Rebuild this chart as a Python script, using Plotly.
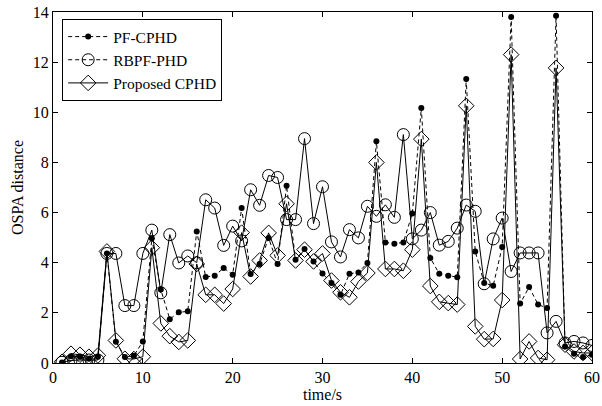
import plotly.graph_objects as go

t = list(range(1, 61))

pf_cphd = [0.02, 0.27, 0.25, 0.17, 0.25, 4.37, 0.85, 0.24, 0.29, 0.86,
           4.98, 2.93, 1.75, 2.02, 2.06, 5.25, 3.43, 3.48, 3.79, 3.52,
           6.18, 3.55, 3.95, 4.99, 3.95, 7.07, 4.12, 4.55, 4.05, 3.57,
           3.19, 2.72, 3.56, 3.61, 3.99, 8.84, 4.81, 4.76, 4.81, 5.96,
           10.17, 4.19, 3.56, 3.48, 3.42, 11.33, 4.45, 3.19, 3.08, 4.63,
           13.8, 2.37, 3.03, 2.33, 2.19, 13.85, 0.66, 0.37, 0.24, 0.33]

rbpf_phd = [0.03, 0.10, 0.12, 0.12, 0.12, 4.37, 4.37, 2.29, 2.29, 4.37,
            5.30, 2.80, 5.12, 3.99, 4.27, 4.00, 6.51, 6.18, 4.69, 5.46,
            4.87, 6.91, 6.29, 7.48, 7.40, 5.72, 5.72, 8.95, 5.56, 7.03,
            4.83, 4.23, 5.32, 4.99, 6.25, 5.85, 6.31, 5.81, 9.11, 4.95,
            5.30, 6.00, 4.70, 4.85, 5.38, 6.30, 6.05, 3.16, 4.95, 5.78,
            3.65, 4.39, 4.39, 4.39, 1.20, 1.66, 0.80, 0.86, 0.80, 0.70]

proposed = [0.05, 0.37, 0.33, 0.25, 0.30, 4.45, 0.90, 0.17, 0.16, 0.25,
            4.60, 1.58, 1.07, 0.84, 0.90, 3.95, 2.72, 2.72, 2.37, 2.95,
            5.20, 3.45, 4.09, 5.19, 4.29, 6.35, 4.09, 4.52, 4.05, 4.37,
            3.29, 2.82, 2.62, 3.25, 3.59, 8.00, 3.75, 3.75, 3.68, 4.52,
            8.93, 3.07, 2.44, 2.39, 2.33, 10.26, 1.46, 0.95, 0.96, 2.51,
            12.30, 0.16, 0.86, 0.20, 0.13, 11.77, 0.73, 0.46, 0.40, 0.40]

names = ["PF-CPHD", "RBPF-PHD", "Proposed CPHD"]
x_ticks = [0, 10, 20, 30, 40, 50, 60]
y_ticks = [0, 2, 4, 6, 8, 10, 12, 14]

FONT = "Liberation Serif, Times New Roman, serif"

fig = go.Figure()

# RBPF-PHD (solid line in plot, dashed in legend)
fig.add_trace(go.Scatter(
    x=t, y=rbpf_phd, mode="lines+markers", showlegend=False,
    line=dict(color="black", width=1),
    marker=dict(symbol="circle-open", size=12, color="black", line=dict(width=1))))

# PF-CPHD
fig.add_trace(go.Scatter(
    x=t, y=pf_cphd, mode="lines+markers", name=names[0],
    line=dict(color="black", width=1, dash="4px,3px"),
    marker=dict(symbol="circle", size=6, color="black")))

fig.add_trace(go.Scatter(
    x=[None], y=[None], mode="lines+markers", name=names[1],
    line=dict(color="black", width=1, dash="4px,3px"),
    marker=dict(symbol="circle-open", size=12, color="black", line=dict(width=1))))

# Proposed CPHD
fig.add_trace(go.Scatter(
    x=t, y=proposed, mode="lines+markers", name=names[2],
    line=dict(color="black", width=1),
    marker=dict(symbol="diamond-open", size=12, color="black", line=dict(width=1))))

axis_common = dict(
    showline=True, linecolor="black", linewidth=1, mirror="allticks",
    ticks="inside", ticklen=5, tickcolor="black", showgrid=False, zeroline=False,
    automargin=False,
    tickfont=dict(family=FONT, size=16, color="black"),
)

fig.update_layout(
    width=602, height=406,
    margin=dict(l=53, r=10, t=12, b=43, autoexpand=False),
    paper_bgcolor="white", plot_bgcolor="white",
    font=dict(family=FONT, size=16, color="black"),
    xaxis=dict(range=[0, 60], tickvals=x_ticks, **axis_common,
               title=dict(text="time/s", font=dict(family=FONT, size=16), standoff=3)),
    yaxis=dict(range=[0, 14], tickvals=y_ticks, **axis_common,
               title=dict(text="OSPA distance", font=dict(family=FONT, size=16), standoff=5)),
    legend=dict(x=0.017, y=0.98, xanchor="left", yanchor="top",
                bordercolor="black", borderwidth=1, bgcolor="white",
                font=dict(family=FONT, size=15.5, color="black"),
                tracegroupgap=0, itemwidth=40),
)

fig.write_html(
    "out.html",
    config={"displayModeBar": False},
    post_script="document.body.style.margin='0';document.body.style.overflow='hidden';",
)
